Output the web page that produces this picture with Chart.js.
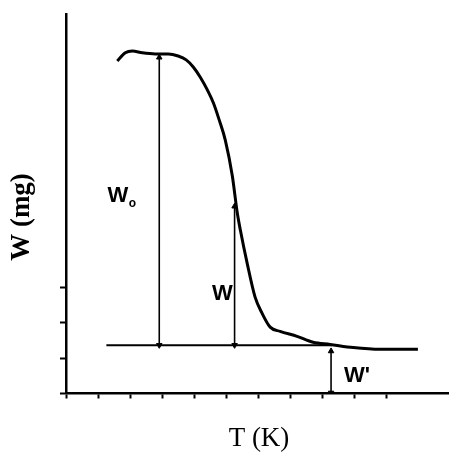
<!DOCTYPE html>
<html lang="en">
<head>
  <meta charset="UTF-8" />
  <title>W (mg) vs T (K)</title>
  <style>
    body { margin: 0; background: #fff; overflow: hidden; }
    canvas { display: block; }
  </style>
  <script src="https://cdn.jsdelivr.net/npm/chart.js"></script>
</head>
<body>
  <canvas id="tgChart" width="449" height="456"></canvas>
  <script>
    // weight-loss curve, in tick units
    const curveT = [1.60, 1.85, 2.07, 2.38, 2.79, 3.19, 3.50, 3.75, 3.97, 4.19, 4.41, 4.60, 4.78, 4.97,
                    5.19, 5.34, 5.44, 5.65, 5.90, 6.12, 6.37, 6.68, 7.21, 7.71, 8.24, 8.96, 9.80, 10.98];
    const curveW = [9.42, 9.65, 9.70, 9.65, 9.62, 9.62, 9.56, 9.45, 9.25, 8.96, 8.60, 8.23, 7.75, 7.18,
                    6.16, 5.14, 4.63, 3.70, 2.73, 2.27, 1.88, 1.76, 1.62, 1.45, 1.39, 1.30, 1.25, 1.25];

    // residue level line
    const baseT = [1.26, 8.3];
    const baseW = 1.37;

    // arrows: position on T, top and bottom on W
    const arrowT = [2.91, 5.26, 8.27];
    const arrowTop = [9.52, 5.3, 1.2];
    const arrowBottom = [1.37, 1.37, 0.02];

    // labels next to arrows
    const labelText = ['W', 'W', "W'"];
    const labelSub = ['o', '', ''];
    const labelT = [1.62, 4.88, 9.08];
    const labelW = [5.6, 2.82, 0.5];

    const xTitle = 'T (K)';
    const yTitle = 'W (mg)';

    const curveData = curveT.map((t, i) => ({ x: t, y: curveW[i] }));

    const arrowSets = arrowT.map((t, i) => ({
      data: [{ x: t, y: arrowTop[i] }, { x: t, y: arrowBottom[i] }],
      borderColor: '#000',
      backgroundColor: '#000',
      borderWidth: 1.6,
      pointStyle: 'triangle',
      pointRadius: 3.2,
      pointRotation: [0, 180],
      pointBorderWidth: 1
    }));

    // only whole-step ticks, no extra mark at the max
    const wholeTicks = scale => {
      scale.ticks = scale.ticks.filter(t => Number.isInteger(t.value));
    };

    // text drawn on top of the chart: axis titles and arrow labels
    const textPlugin = {
      id: 'tgText',
      afterDraw(chart) {
        const ctx = chart.ctx;
        const xs = chart.scales.x, ys = chart.scales.y;
        ctx.save();
        ctx.fillStyle = '#000';
        ctx.textBaseline = 'middle';
        ctx.textAlign = 'center';

        labelText.forEach((txt, i) => {
          const px = xs.getPixelForValue(labelT[i]);
          const py = ys.getPixelForValue(labelW[i]);
          ctx.font = 'bold 22px "Liberation Sans", Arial, sans-serif';
          ctx.fillText(txt, px, py);
          if (labelSub[i]) {
            const w = ctx.measureText(txt).width;
            ctx.font = 'bold 12px "Liberation Sans", Arial, sans-serif';
            ctx.fillText(labelSub[i], px + w / 2 + 4, py + 8);
          }
        });

        ctx.font = '27px "Liberation Serif", "Times New Roman", serif';
        ctx.fillText(xTitle, 259, 439);

        ctx.save();
        ctx.translate(22, 217);
        ctx.rotate(-Math.PI / 2);
        ctx.font = 'bold 27px "Liberation Serif", "Times New Roman", serif';
        ctx.fillText(yTitle, 0, 0);
        ctx.restore();

        ctx.restore();
      }
    };

    new Chart(document.getElementById('tgChart'), {
      type: 'line',
      data: {
        datasets: [
          {
            data: curveData,
            borderColor: '#000',
            borderWidth: 3,
            pointRadius: 0,
            cubicInterpolationMode: 'monotone'
          },
          {
            data: baseT.map(t => ({ x: t, y: baseW })),
            borderColor: '#000',
            borderWidth: 2,
            pointRadius: 0
          },
          ...arrowSets
        ]
      },
      options: {
        responsive: false,
        devicePixelRatio: 1,
        animation: false,
        layout: { autoPadding: false, padding: { top: 14, left: 0, right: 0, bottom: 0 } },
        plugins: { legend: { display: false }, tooltip: { enabled: false } },
        scales: {
          x: {
            type: 'linear',
            min: 0,
            max: 11.95,
            afterFit(scale) { scale.height = 62.5; },
            afterBuildTicks: wholeTicks,
            border: { color: '#000', width: 2.5 },
            grid: { drawOnChartArea: false, color: '#000', tickLength: 5, tickWidth: 2 },
            ticks: { display: false, stepSize: 1 }
          },
          y: {
            min: 0,
            max: 10.75,
            afterFit(scale) { scale.width = 66; },
            afterBuildTicks: wholeTicks,
            border: { color: '#000', width: 2.5 },
            grid: {
              drawOnChartArea: false,
              tickLength: 6,
              tickWidth: 2,
              tickColor: c => (c.tick && c.tick.value <= 3 ? '#000' : 'rgba(0,0,0,0)')
            },
            ticks: { display: false, stepSize: 1 }
          }
        }
      },
      plugins: [textPlugin]
    });
  </script>
</body>
</html>
